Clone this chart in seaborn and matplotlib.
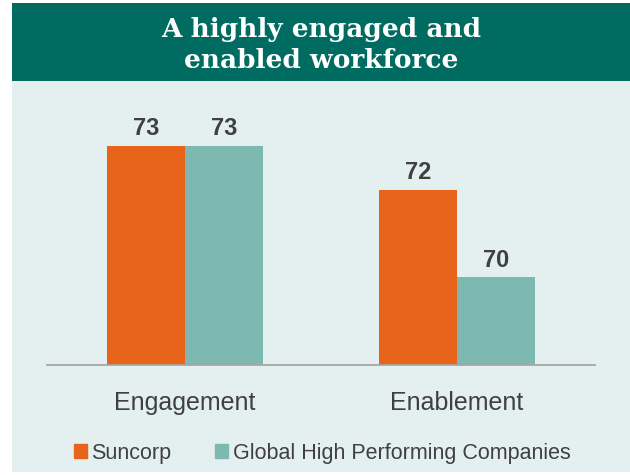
import matplotlib
matplotlib.use("Agg")
import matplotlib.pyplot as plt
import matplotlib.patches as mpatches
import seaborn as sns
import pandas as pd

categories = ["Engagement", "Enablement"]
series = ["Suncorp", "Global High Performing Companies"]
suncorp = [73, 72]
global_hpc = [73, 70]
title_text = "A highly engaged and\nenabled workforce"

ORANGE = "#E8641B"
TEAL = "#7DB8B1"
BG = "#E4F0F0"
BANNER = "#006B60"
TXT = "#404040"

df = pd.DataFrame({
    "category": categories * 2,
    "series": [series[0]] * 2 + [series[1]] * 2,
    "value": suncorp + global_hpc,
})

sns.set_theme(style="white")
plt.rcParams["font.family"] = ["Liberation Sans", "DejaVu Sans"]

W, H = 630, 475
fig = plt.figure(figsize=(W / 100, H / 100), dpi=100)
fig.patch.set_facecolor("white")

# panel background and banner
fig.patches.append(mpatches.Rectangle((12 / W, 1 - 472 / H), (W - 12) / W, (472 - 80) / H,
                                      transform=fig.transFigure, facecolor=BG, edgecolor="none", zorder=-10))
fig.patches.append(mpatches.Rectangle((12 / W, 1 - 81 / H), (W - 12) / W, (81 - 3) / H,
                                      transform=fig.transFigure, facecolor=BANNER, edgecolor="none", zorder=-10))
fig.text((12 + W) / 2 / W, 1 - 45 / H, title_text, ha="center", va="center", color="white",
         fontsize=19, fontweight="bold", family=["DejaVu Serif"], linespacing=1.3)

ax = fig.add_axes([47 / W, 1 - 365 / H, (595 - 47) / W, (365 - 100) / H])
ax.set_facecolor("none")
ax.set_zorder(5)
sns.barplot(data=df, x="category", y="value", hue="series", hue_order=series,
            palette=[ORANGE, TEAL], width=0.574, gap=0, saturation=1, ax=ax, legend=False,
            linewidth=0)
ax.set_ylim(68, 74.05)
ax.set_xlim(-0.507, 1.507)
for c in ax.containers:
    ax.bar_label(c, fmt="%d", padding=4, fontsize=17, fontweight="bold", color=TXT)
for s in ["top", "right", "left"]:
    ax.spines[s].set_visible(False)
ax.spines["bottom"].set_color("#A6A6A6")
ax.spines["bottom"].set_linewidth(1.3)
ax.set_yticks([])
ax.set_xlabel("")
ax.set_ylabel("")
ax.tick_params(axis="x", length=0, pad=19, labelsize=18, labelcolor=TXT)

handles = [mpatches.Patch(color=ORANGE), mpatches.Patch(color=TEAL)]
fig.legend(handles, series, loc="center left", bbox_to_anchor=(74 / W, 1 - 453 / H), ncol=2,
           frameon=False, fontsize=15.5, labelcolor=TXT, handlelength=0.6, handleheight=0.6,
           handletextpad=0.2, columnspacing=2.05, borderpad=0, borderaxespad=0)

fig.savefig("out.png", dpi=100, facecolor="white")
